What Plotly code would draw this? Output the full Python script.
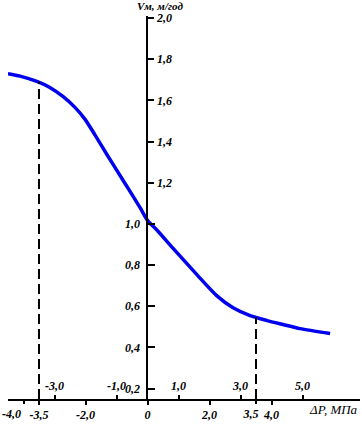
import plotly.graph_objects as go

# ---- data ----
dp = [-4.50, -4.11, -3.57, -3.15, -2.73, -2.34, -2.02, -1.69, -1.31, -0.79,
      -0.24, 0.0, 0.31, 0.82, 1.60, 2.24, 2.76, 3.31, 3.86, 4.37, 4.92, 5.89]
vm = [1.730, 1.718, 1.692, 1.663, 1.619, 1.566, 1.509, 1.431, 1.337, 1.212,
      1.079, 1.017, 0.969, 0.882, 0.752, 0.650, 0.592, 0.554, 0.530, 0.511,
      0.491, 0.467]

guide_x = [-3.5, 3.5]
guide_v = [1.69, 0.546]

x_bottom_vals = [-4.0, -3.5, -2.0, 0.0, 2.0, 3.5, 4.0]
x_bottom_text = ["-4,0", "-3,5", "-2,0", "0", "2,0", "3,5", "4,0"]
x_top_vals = [-3.0, -1.0, 1.0, 3.0, 5.0]
x_top_text = ["-3,0", "-1,0", "1,0", "3,0", "5,0"]
y_low_vals = [0.2, 0.4, 0.6, 0.8, 1.0]
y_low_text = ["0,2", "0,4", "0,6", "0,8", "1,0"]
y_high_vals = [1.2, 1.4, 1.6, 1.8, 2.0]
y_high_text = ["1,2", "1,4", "1,6", "1,8", "2,0"]

x_range = [-4.5, 6.855]
y_range = [0.149, 2.010]

# label pixel shifts (style only) for crowded bottom labels
label_shift = {-4.0: -12, 3.5: -5}

W, H = 362, 424
ML, MR, MT, MB = 8, 2, 16, 22
PW, PH = W - ML - MR, H - MT - MB
y_axis_pos = (0 - x_range[0]) / (x_range[1] - x_range[0])

tick_font = dict(family="Liberation Serif", size=12, color="black",
                 style="italic", weight="bold")

fig = go.Figure()

fig.add_trace(go.Scatter(
    x=dp, y=vm, mode="lines",
    line=dict(color="#0000ee", width=3.5, shape="spline", smoothing=0.7),
    hoverinfo="skip", showlegend=False))

for gx, gv in zip(guide_x, guide_v):
    fig.add_trace(go.Scatter(
        x=[gx, gx], y=[y_range[0], gv], mode="lines",
        line=dict(color="black", width=2, dash="10px,5px"),
        xaxis="x2", yaxis="y2", hoverinfo="skip", showlegend=False))

common_x = dict(range=x_range, ticks="outside", ticklen=4, tickwidth=1.5,
                tickcolor="black", tickfont=tick_font, tickangle=0,
                showgrid=False, zeroline=False, fixedrange=True)

main_vals = [v for v in x_bottom_vals if v not in label_shift]
main_text = [t for v, t in zip(x_bottom_vals, x_bottom_text) if v not in label_shift]

layout_axes = {}
layout_axes["xaxis"] = dict(common_x, showline=True, linecolor="black", linewidth=1.5,
                            tickvals=main_vals, ticktext=main_text,
                            anchor="y", side="bottom")
layout_axes["xaxis2"] = dict(common_x, overlaying="x", side="top", anchor="free",
                             position=0, showline=False,
                             tickvals=x_top_vals, ticktext=x_top_text)

n = 3
for v, t in zip(x_bottom_vals, x_bottom_text):
    if v in label_shift:
        layout_axes[f"xaxis{n}"] = dict(common_x, overlaying="x", side="bottom",
                                        anchor="y", showline=False,
                                        tickvals=[v], ticktext=[t],
                                        ticklabelshift=label_shift[v])
        fig.add_trace(go.Scatter(x=[], y=[], xaxis=f"x{n}", yaxis="y",
                                 showlegend=False, hoverinfo="skip"))
        n += 1

fig.update_layout(
    width=W, height=H,
    margin=dict(l=ML, r=MR, t=MT, b=MB, pad=0),
    paper_bgcolor="white", plot_bgcolor="white",
    showlegend=False,
    yaxis=dict(range=y_range, anchor="free", position=y_axis_pos, side="left",
               showline=True, linecolor="black", linewidth=2,
               ticks="inside", ticklen=7, tickwidth=1.5, tickcolor="black",
               tickvals=y_low_vals, ticktext=y_low_text, tickfont=tick_font,
               ticklabelstandoff=4,
               showgrid=False, zeroline=False, fixedrange=True),
    yaxis2=dict(range=y_range, overlaying="y", anchor="free", position=y_axis_pos,
                side="right", showline=False, ticks="outside", ticklen=6,
                tickwidth=1.5, tickcolor="black",
                tickvals=y_high_vals, ticktext=y_high_text, tickfont=tick_font,
                showgrid=False, zeroline=False, fixedrange=True),
    annotations=[
        dict(text="Vм, м/год", xref="paper", yref="paper",
             x=(160 - ML) / PW, y=1 + (MT - 6) / PH, xanchor="center", yanchor="middle",
             showarrow=False,
             font=dict(family="Liberation Serif", size=11, color="black",
                       style="italic", weight="bold")),
        dict(text="ΔP, МПа", xref="paper", yref="paper",
             x=1, y=-(413 - (H - MB)) / PH, xanchor="right", yanchor="middle",
             showarrow=False,
             font=dict(family="Liberation Serif", size=13, color="black",
                       style="italic")),
    ],
    **layout_axes,
)

fig.write_html("out.html")
